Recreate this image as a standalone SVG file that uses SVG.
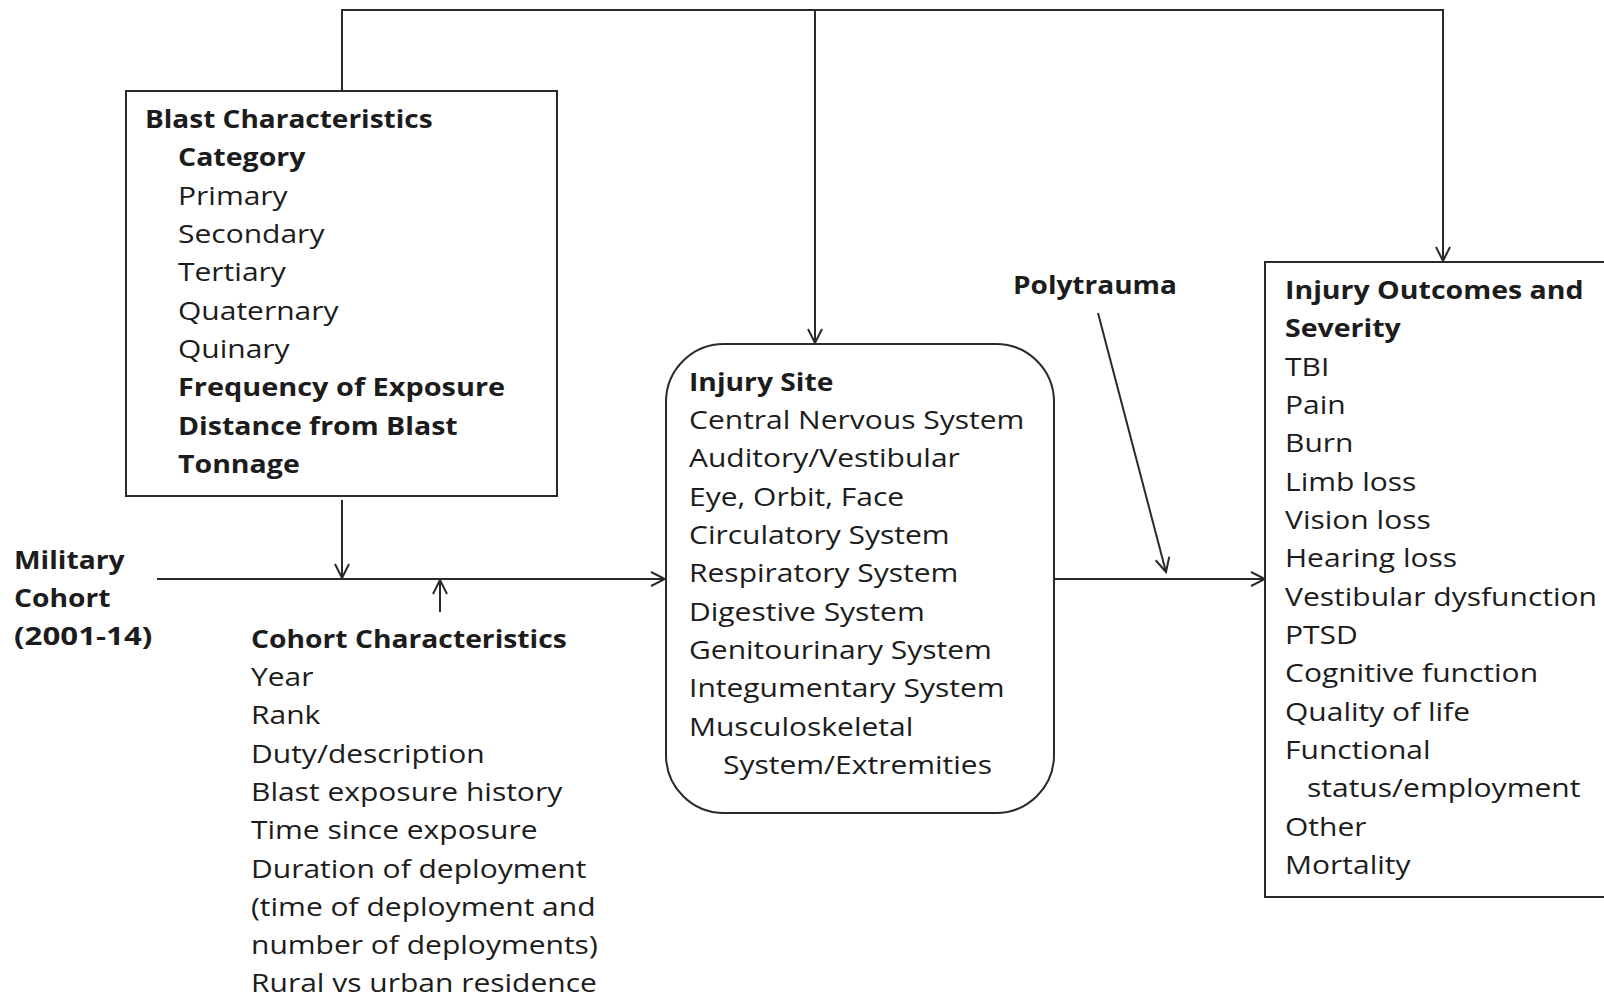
<svg xmlns="http://www.w3.org/2000/svg" width="1604" height="999" viewBox="0 0 1604 999">
<style>
  .bg { fill: #ffffff; }
  .box { fill: #ffffff; stroke: #2a2a2a; stroke-width: 2; }
  .conn { fill: none; stroke: #2a2a2a; stroke-width: 2; }
  text { font-family: "Open Sans", "Noto Sans", "DejaVu Sans", sans-serif; font-size: 25px; fill: #1c1c1c; }
  .b { font-weight: 700; }
  .r { font-weight: 400; }
</style>
<defs>
  <marker id="arr" viewBox="-16 -9 18 18" markerWidth="18" markerHeight="18" refX="0" refY="0" orient="auto" markerUnits="userSpaceOnUse">
    <path d="M-14,-7 L0,0 L-14,7" fill="none" stroke="#2a2a2a" stroke-width="2"/>
  </marker>
</defs>
<rect class="bg" x="0" y="0" width="1604" height="999"/>

<g id="connectors">
  <path class="conn" d="M342,91 V10 H1443 V261" marker-end="url(#arr)"/>
  <path class="conn" d="M815,10 V343" marker-end="url(#arr)"/>
  <path class="conn" d="M342,500 V578" marker-end="url(#arr)"/>
  <path class="conn" d="M440,612 V580" marker-end="url(#arr)"/>
  <path class="conn" d="M157,579 H665" marker-end="url(#arr)"/>
  <path class="conn" d="M1054,579 H1265" marker-end="url(#arr)"/>
  <path class="conn" d="M1098,313 L1166,572" marker-end="url(#arr)"/>
</g>

<g id="blast-characteristics">
  <rect class="box" x="126" y="91" width="431" height="405"/>
  <text class="b" transform="translate(145,128) scale(1.12,1)">Blast Characteristics</text>
  <text class="b" transform="translate(178,166) scale(1.14,1)">Category</text>
  <text class="r" transform="translate(178,205) scale(1.2,1)">Primary</text>
  <text class="r" transform="translate(178,243) scale(1.2,1)">Secondary</text>
  <text class="r" transform="translate(178,281) scale(1.2,1)">Tertiary</text>
  <text class="r" transform="translate(178,320) scale(1.2,1)">Quaternary</text>
  <text class="r" transform="translate(178,358) scale(1.2,1)">Quinary</text>
  <text class="b" transform="translate(178,396) scale(1.155,1)">Frequency of Exposure</text>
  <text class="b" transform="translate(178,435) scale(1.14,1)">Distance from Blast</text>
  <text class="b" transform="translate(178,473) scale(1.14,1)">Tonnage</text>
</g>

<g id="military-cohort">
  <text class="b" transform="translate(14,569) scale(1.13,1)">Military</text>
  <text class="b" transform="translate(14,607) scale(1.13,1)">Cohort</text>
  <text class="b" transform="translate(14,645) scale(1.25,1)">(2001-14)</text>
</g>

<g id="cohort-characteristics">
  <text class="b" transform="translate(251,648) scale(1.13,1)">Cohort Characteristics</text>
  <text class="r" transform="translate(251,686) scale(1.2,1)">Year</text>
  <text class="r" transform="translate(251,724) scale(1.2,1)">Rank</text>
  <text class="r" transform="translate(251,763) scale(1.2,1)">Duty/description</text>
  <text class="r" transform="translate(251,801) scale(1.2,1)">Blast exposure history</text>
  <text class="r" transform="translate(251,839) scale(1.2,1)">Time since exposure</text>
  <text class="r" transform="translate(251,878) scale(1.2,1)">Duration of deployment</text>
  <text class="r" transform="translate(251,916) scale(1.2,1)">(time of deployment and</text>
  <text class="r" transform="translate(251,954) scale(1.2,1)">number of deployments)</text>
  <text class="r" transform="translate(251,992) scale(1.2,1)">Rural vs urban residence</text>
</g>

<g id="injury-site">
  <rect class="box" x="666" y="344" width="388" height="469" rx="58" ry="58"/>
  <text class="b" transform="translate(689,391) scale(1.13,1)">Injury Site</text>
  <text class="r" transform="translate(689,429) scale(1.2,1)">Central Nervous System</text>
  <text class="r" transform="translate(689,467) scale(1.2,1)">Auditory/Vestibular</text>
  <text class="r" transform="translate(689,506) scale(1.2,1)">Eye, Orbit, Face</text>
  <text class="r" transform="translate(689,544) scale(1.2,1)">Circulatory System</text>
  <text class="r" transform="translate(689,582) scale(1.2,1)">Respiratory System</text>
  <text class="r" transform="translate(689,621) scale(1.2,1)">Digestive System</text>
  <text class="r" transform="translate(689,659) scale(1.2,1)">Genitourinary System</text>
  <text class="r" transform="translate(689,697) scale(1.2,1)">Integumentary System</text>
  <text class="r" transform="translate(689,736) scale(1.2,1)">Musculoskeletal</text>
  <text class="r" transform="translate(723,774) scale(1.2,1)">System/Extremities</text>
</g>

<g id="polytrauma">
  <text class="b" transform="translate(1013,294) scale(1.12,1)">Polytrauma</text>
</g>

<g id="injury-outcomes">
  <rect class="box" x="1265" y="262" width="345" height="635"/>
  <text class="b" transform="translate(1285,299) scale(1.14,1)">Injury Outcomes and</text>
  <text class="b" transform="translate(1285,337) scale(1.14,1)">Severity</text>
  <text class="r" transform="translate(1285,376) scale(1.2,1)">TBI</text>
  <text class="r" transform="translate(1285,414) scale(1.2,1)">Pain</text>
  <text class="r" transform="translate(1285,452) scale(1.2,1)">Burn</text>
  <text class="r" transform="translate(1285,491) scale(1.2,1)">Limb loss</text>
  <text class="r" transform="translate(1285,529) scale(1.2,1)">Vision loss</text>
  <text class="r" transform="translate(1285,567) scale(1.2,1)">Hearing loss</text>
  <text class="r" transform="translate(1285,606) scale(1.2,1)">Vestibular dysfunction</text>
  <text class="r" transform="translate(1285,644) scale(1.2,1)">PTSD</text>
  <text class="r" transform="translate(1285,682) scale(1.2,1)">Cognitive function</text>
  <text class="r" transform="translate(1285,721) scale(1.2,1)">Quality of life</text>
  <text class="r" transform="translate(1285,759) scale(1.2,1)">Functional</text>
  <text class="r" transform="translate(1307,797) scale(1.2,1)">status/employment</text>
  <text class="r" transform="translate(1285,836) scale(1.2,1)">Other</text>
  <text class="r" transform="translate(1285,874) scale(1.2,1)">Mortality</text>
</g>
</svg>
